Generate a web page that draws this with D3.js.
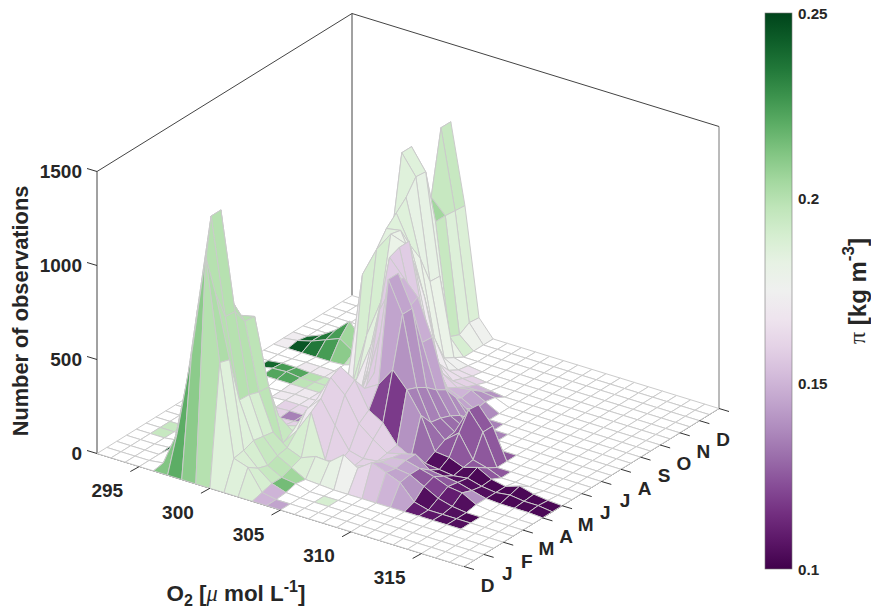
<!DOCTYPE html>
<html><head><meta charset="utf-8">
<script src="https://cdn.jsdelivr.net/npm/d3@7"></script>
<style>html,body{margin:0;padding:0;background:#fff}svg{display:block}text{font-family:"Liberation Sans",Arial,sans-serif;font-weight:bold;fill:#262626}</style>
</head><body><svg id="c" width="871" height="610"></svg>
<script>
const o2Ticks=[295,300,305,310,315];
const o2Nodes=d3.range(292,319);
const monthNodes=d3.range(0,13.5,0.5);
const monthLabels=["D","J","F","M","A","M","J","J","A","S","O","N","D"];
const countTicks=[0,500,1000,1500];
const piTicks=[0.1,0.15,0.2,0.25];
// observations at each node: one list per month step, starting at the lowest O2 (omitted tail = 0)
const counts=[
[],
[0,0,0,0,10,196,630,1177,636,150,125,15],
[0,0,0,0,60,440,900,950,619,160,88,30,5],
[0,0,0,5,60,770,1305,793,372,180,70,30,20],
[0,0,0,10,300,1000,1305,787,368,170,90,50,10,5],
[0,0,0,0,150,700,800,703,350,160,100,70,100,95,155,107,160,130,100,20],
[0,0,0,0,50,300,680,697,345,70,160,280,48,60,60,90,130,120,110,70,30,10],
[0,0,0,0,0,80,400,300,160,100,240,320,200,90,70,80,120,130,110,90,60,50,10],
[0,0,0,0,0,0,60,60,30,120,260,400,330,200,140,90,110,130,70,60,50,30,10,5,5,5],
[0,0,0,0,0,0,0,20,40,100,240,425,378,240,195,100,60,50,40,30,40,20,10,20,10,10],
[0,0,0,0,0,0,5,10,20,80,180,300,300,345,446,363,250,80,72,42,65,25,10,35,15,5],
[0,0,0,0,0,5,10,10,15,60,100,100,350,871,708,342,180,110,170,50,30],
[0,0,0,0,5,10,10,10,20,50,100,313,600,871,708,310,170,120,261,165],
[0,0,0,0,5,10,10,15,20,60,200,600,760,652,494,265,150,110,255,165],
[0,0,10,10,10,10,10,20,30,100,350,845,760,679,489,233,120,60,30],
[0,0,15,20,10,10,10,20,100,300,500,866,550,400,200,160,70,30],
[0,0,10,10,5,5,5,20,300,500,700,866,480,250,100,70,30],
[0,0,0,5,5,5,10,566,722,826,800,500,250,100,70,30],
[0,0,0,0,0,5,30,500,800,813,650,300,120,70,80,40],
[0,10,30,60,90,40,30,600,850,700,450,120,50,40,40,30],
[0,0,30,80,150,60,50,682,900,600,200,50,30,20,10],
[0,0,0,0,0,0,60,1083,978,444,60,20,10],
[0,0,0,0,0,0,60,1083,972,440,30,10],
[0,0,0,0,0,0,60,450,674,86],
[0,0,0,0,0,0,100,750,674,64],
[0,0,0,0,0,0,100,1087,668,96],
[0,0,0,0,0,0,100,1086,663,90]
];
// pi x 1000 for each cell; 0 = no data
const piCells=[
[0,0,0,0,212,220,210,200,186,186,188,150,145],
[0,0,0,0,215,210,205,202,186,188,190,150],
[0,0,0,245,210,205,200,200,186,190,195,215,0,0,190],
[0,0,0,0,202,200,200,200,186,195,198,205],
[0,195,0,0,200,200,200,200,190,195,195,188,185,182,176,162,155,150,145,110,108,105,105],
[0,195,0,0,200,200,200,198,198,195,190,188,183,178,172,155,150,145,140,105,108,105,103],
[0,0,0,0,0,200,200,198,195,180,170,160,160,160,160,158,153,145,125,120,110,105],
[0,0,0,0,0,0,200,198,190,178,168,160,160,160,160,158,150,140,130,125,110,140],
[0,0,0,0,0,0,0,190,178,172,165,160,160,160,160,155,148,120,106,105,105,105,103,103,103,103],
[0,0,0,0,0,0,160,160,170,168,164,160,158,120,118,140,130,105,104,104,103,103,103,103,103,103],
[0,0,0,0,0,160,135,135,160,166,163,158,158,145,140,135,130,125,125,125,125],
[0,0,0,0,0,160,162,160,162,165,163,158,150,145,140,135,130,125,125,125,125],
[0,0,0,0,170,170,168,168,168,168,165,158,150,148,142,135,130,128,125,125],
[0,0,0,0,170,170,168,168,170,168,165,158,150,148,145,138,130,130,125,125],
[0,0,222,222,198,195,192,172,170,168,165,158,155,150,145,138,132,135],
[0,240,225,222,200,195,185,190,185,170,165,158,158,155,145,138,132,135],
[0,0,0,170,170,170,172,190,190,180,166,160,158,150,145,138,135],
[0,0,0,0,0,0,0,190,185,180,170,165,160,150,145,138],
[172,245,235,225,210,195,172,190,186,180,172,165,160,150,140],
[172,240,235,225,205,195,172,190,186,180,172,165,160,150,140],
[0,0,0,0,0,0,0,186,182,180,175,165,160],
[0,0,0,0,0,0,0,186,182,180,175,165],
[0,0,0,0,0,0,0,186,182,180],
[0,0,0,0,0,0,205,205,195,190],
[0,0,0,0,0,0,0,195,187,178],
[0,0,0,0,0,0,0,195,188,176]
];
const svg=d3.select("#c");
const ox=97,oy=453.5;
const xPx=d3.scaleLinear().domain([292,318]).range([0,367]);
const xPy=d3.scaleLinear().domain([292,318]).range([0,113]);
const mPx=d3.scaleLinear().domain([0,13]).range([0,255]);
const mPy=d3.scaleLinear().domain([0,13]).range([0,-158]);
const zPy=d3.scaleLinear().domain([0,1500]).range([0,-282]);
const P=(o,m,z=0)=>[ox+xPx(o)+mPx(m),oy+xPy(o)+mPy(m)+zPy(z)];
const color=d3.scaleLinear().domain([0.1,0.25]).range([0,1]);
const piColor=v=>d3.interpolatePRGn(color(v));
const line=(a,b,st,w=1)=>svg.append("line").attr("x1",a[0]).attr("y1",a[1]).attr("x2",b[0]).attr("y2",b[1]).attr("stroke",st).attr("stroke-width",w);
const o0=292,o1=318,m0=0,m1=13,zt=1500;
// box
[[P(o0,m0,zt),P(o0,m0,0)],[P(o0,m0,zt),P(o0,m1,zt)],[P(o0,m1,zt),P(o1,m1,zt)],[P(o0,m1,zt),P(o0,m1,0)]].forEach(s=>line(s[0],s[1],"#444"));
line(P(o1,m1,zt),P(o1,m1,0),"#777");
line(P(o0,m0,0),P(o1,m0,0),"#333");
line(P(o1,m0,0),P(o1,m1,0),"#333");
// surface, far cells first
const zv=(j,i)=>(counts[j]&&counts[j][i])||0;
for(let j=monthNodes.length-2;j>=0;j--){
 for(let i=0;i<o2Nodes.length-1;i++){
  const c=(piCells[j]&&piCells[j][i])||0;
  const pts=[[i,j],[i+1,j],[i+1,j+1],[i,j+1]].map(([a,b])=>P(o2Nodes[a],monthNodes[b],zv(b,a)));
  svg.append("path").attr("d",d3.line()(pts)+"Z").attr("fill",c?piColor(c/1000):"#fff").attr("stroke","#cbcbcb").attr("stroke-width",1).attr("stroke-linejoin","round");
 }
}
// ticks + labels
const tickCol="#333";
countTicks.forEach(v=>{const p=P(o0,m0,v);line(p,[p[0]-10,p[1]-3],tickCol);
 svg.append("text").attr("x",82).attr("y",p[1]).attr("text-anchor","end").attr("dominant-baseline","central").attr("font-size",19).text(v);});
o2Ticks.forEach(v=>{const p=P(v,m0,0);line(p,[p[0]-9,p[1]+5],tickCol);
 svg.append("text").attr("x",p[0]-32).attr("y",p[1]+24).attr("text-anchor","middle").attr("dominant-baseline","central").attr("font-size",19).text(v);});
d3.range(0,14).forEach(m=>{const p=P(o1,m,0);line(p,[p[0]+10,p[1]+3],tickCol);
 if(m>0)svg.append("text").attr("x",p[0]+4).attr("y",p[1]+31).attr("text-anchor","middle").attr("dominant-baseline","central").attr("font-size",19).text(monthLabels[m-1]);});
// titles
svg.append("text").attr("transform","translate(20,311) rotate(-90)").attr("text-anchor","middle").attr("dominant-baseline","central").attr("font-size",21.8).text("Number of observations");
const xt=svg.append("text").attr("x",236).attr("y",601).attr("text-anchor","middle").attr("font-size",22.4);
xt.append("tspan").text("O");
xt.append("tspan").attr("dy",5).attr("font-size",16).text("2");
xt.append("tspan").attr("dy",-5).text(" [");
xt.append("tspan").attr("style","font-family:'Liberation Serif';font-style:italic;font-weight:normal").text("μ");
xt.append("tspan").text(" mol L");
xt.append("tspan").attr("dy",-9).attr("font-size",16).text("-1");
xt.append("tspan").attr("dy",9).text("]");
// colorbar
const cbY=d3.scaleLinear().domain([0.1,0.25]).range([569,13]);
const grad=svg.append("defs").append("linearGradient").attr("id","g").attr("x1",0).attr("x2",0).attr("y1",1).attr("y2",0);
d3.range(0,1.001,0.05).forEach(t=>grad.append("stop").attr("offset",t).attr("stop-color",d3.interpolatePRGn(t)));
svg.append("rect").attr("x",765).attr("y",cbY(0.25)).attr("width",27).attr("height",cbY(0.1)-cbY(0.25)).attr("fill","url(#g)").attr("stroke","#777").attr("stroke-width",0.6);
piTicks.forEach(v=>svg.append("text").attr("x",798).attr("y",cbY(v)).attr("dominant-baseline","central").attr("font-size",15.2).text(v));
const ct=svg.append("text").attr("transform","translate(857,291) rotate(-90)").attr("text-anchor","middle").attr("dominant-baseline","central").attr("font-size",24);
ct.append("tspan").attr("style","font-family:'Liberation Serif';font-weight:normal").text("π");
ct.append("tspan").text(" [kg m");
ct.append("tspan").attr("dy",-9).attr("font-size",17).text("-3");
ct.append("tspan").attr("dy",9).text("]");
</script></body></html>
